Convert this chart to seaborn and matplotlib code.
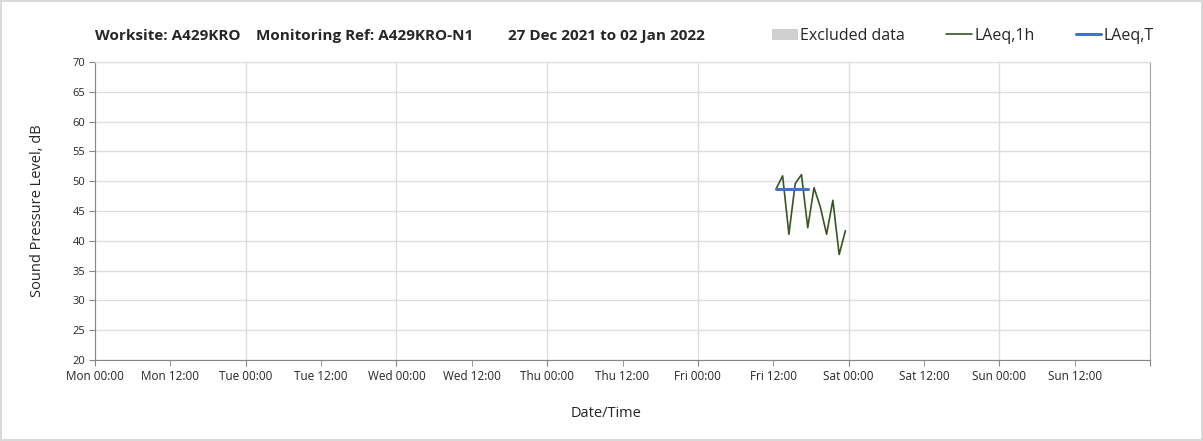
import pandas as pd
import matplotlib
matplotlib.use("Agg")
import matplotlib.pyplot as plt
from matplotlib.patches import Patch
from matplotlib.lines import Line2D
import seaborn as sns

# hourly LAeq values, Fri 31 Dec 2021 from 12:30
hourly_times = pd.date_range("2021-12-31 12:30", periods=12, freq="h")
hourly_laeq = [48.8, 50.9, 41.1, 49.6, 51.1, 42.2, 48.9, 45.7, 41.1, 46.8, 37.7, 41.7]

# LAeq,T over the period
period_times = pd.to_datetime(["2021-12-31 12:30", "2021-12-31 17:30"])
period_laeq = [48.7, 48.7]

day_names = ["Mon", "Tue", "Wed", "Thu", "Fri", "Sat", "Sun"]
title_parts = ["Worksite: A429KRO", "Monitoring Ref: A429KRO-N1", "27 Dec 2021 to 02 Jan 2022"]
title_x = [95, 256, 508]

sns.set_style("white")
plt.rcParams["font.family"] = ["Open Sans", "DejaVu Sans"]

fig = plt.figure(figsize=(12.03, 4.41), dpi=100)
fig.patch.set_edgecolor("#d9d9d9")
fig.patch.set_linewidth(1.5)
ax = fig.add_axes([95 / 1203, 1 - 360 / 441, 1055 / 1203, 298 / 441])

hourly = pd.DataFrame({"time": hourly_times, "laeq": hourly_laeq})
period = pd.DataFrame({"time": period_times, "laeq": period_laeq})
sns.lineplot(data=hourly, x="time", y="laeq", ax=ax, color="#375623", lw=1.2)
sns.lineplot(data=period, x="time", y="laeq", ax=ax, color="#4472c4", lw=2.2)

start = pd.Timestamp("2021-12-27")
ax.set_xlim(start, start + pd.Timedelta(days=7))
ax.set_ylim(20, 70)
ax.set_yticks(range(20, 71, 5))

major = [start + pd.Timedelta(days=i) for i in range(8)]
minor = [start + pd.Timedelta(days=i, hours=12) for i in range(7)]
ax.set_xticks(major)
ax.set_xticks(minor, minor=True)
ax.set_xticklabels([f"{d} 00:00" for d in day_names] + [""], fontsize=8.5)
ax.set_xticklabels([f"{d} 12:00" for d in day_names], minor=True, fontsize=8.5)
ax.tick_params(axis="y", labelsize=8, length=4, color="#868686", left=True, pad=3)
ax.tick_params(axis="x", which="both", length=4, color="#868686", bottom=True, pad=3)
ax.grid(True, which="major", color="#dedede", lw=1)
ax.grid(False, which="minor")

for side in ["left", "bottom"]:
    ax.spines[side].set_color("#868686")
ax.spines["right"].set_color("#a6a6a6")
ax.spines["top"].set_color("#dedede")

ax.set_xlabel("Date/Time", fontsize=10.5)
ax.xaxis.set_label_coords((606 - 95) / 1055, -46 / 298)
ax.set_ylabel("Sound Pressure Level, dB", fontsize=10.5, labelpad=20)

for x, part in zip(title_x, title_parts):
    fig.text(x / 1203, 1 - 36 / 441, part, fontsize=11, fontweight="bold", va="center")

handles = [
    Patch(facecolor="#d0d0d0", edgecolor="none", label="Excluded data"),
    Line2D([], [], color="#375623", lw=1.2, label="LAeq,1h"),
    Line2D([], [], color="#4472c4", lw=2.2, label="LAeq,T"),
]
fig.legend(handles=handles, loc="center right", bbox_to_anchor=(1162 / 1203, 1 - 36 / 441),
           ncol=3, frameon=False, fontsize=11.5, handlelength=1.6, handletextpad=0.15,
           columnspacing=2.6, borderpad=0)

fig.savefig("out.png", dpi=100)
